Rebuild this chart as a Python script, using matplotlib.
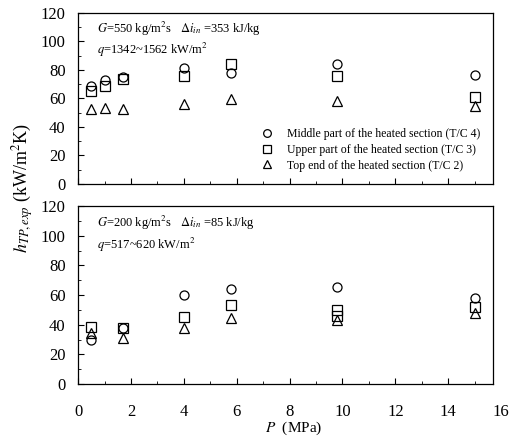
import matplotlib.pyplot as plt
from matplotlib.ticker import MultipleLocator

plt.rcParams['font.family'] = ['Liberation Serif', 'DejaVu Serif']
plt.rcParams['mathtext.fontset'] = 'stix'

# pressure (MPa)
p_top = [0.5, 1.0, 1.7, 4.0, 5.8, 9.8, 15.0]
tc4_top = [69, 73, 75, 81, 77.5, 84, 76.5]
tc3_top = [65.5, 69, 73.5, 76, 84, 76, 61]
tc2_top = [52.5, 53, 52.5, 56, 59.5, 58, 54.5]

p_bot = [0.5, 1.7, 4.0, 5.8, 9.8, 15.0]
tc4_bot = [30, 38, 60, 64, 65.5, 58]
tc3_bot = [38.5, 38, 45, 53, 50, 52]
tc2_bot = [34.5, 31, 37.5, 44.5, 43, 48]
# extra overlapping points near 10 MPa
p_extra = [9.8]
tc3_extra = [46]

fig = plt.figure(figsize=(5.11, 4.42), dpi=100)
ax1 = fig.add_axes([0.153, 0.584, 0.812, 0.387])
ax2 = fig.add_axes([0.153, 0.131, 0.812, 0.403])

mk = dict(linestyle='none', markerfacecolor='none', markeredgecolor='black',
          markersize=6.5, markeredgewidth=0.9)

ax1.plot(p_top, tc4_top, marker='o', label='Middle part of the heated section (T/C 4)', **mk)
ax1.plot(p_top, tc3_top, marker='s', label='Upper part of the heated section (T/C 3)', **mk)
ax1.plot(p_top, tc2_top, marker='^', label='Top end of the heated section (T/C 2)', **mk)

ax2.plot(p_bot, tc4_bot, marker='o', **mk)
ax2.plot(p_bot, tc3_bot, marker='s', **mk)
ax2.plot(p_extra, tc3_extra, marker='s', **mk)
ax2.plot(p_bot, tc2_bot, marker='^', **mk)

for ax in (ax1, ax2):
    ax.set_xlim(0, 15.7)
    ax.set_ylim(0, 120)
    ax.xaxis.set_major_locator(MultipleLocator(2))
    ax.xaxis.set_minor_locator(MultipleLocator(1))
    ax.yaxis.set_major_locator(MultipleLocator(20))
    ax.yaxis.set_minor_locator(MultipleLocator(10))
    ax.tick_params(which='both', direction='in', top=False, right=False, labelsize=12)
    ax.tick_params(which='major', length=4)
    ax.tick_params(which='minor', length=2.5)
    ax.tick_params(axis='y', pad=9)
    for s in ax.spines.values():
        s.set_linewidth(0.9)

ax1.tick_params(axis='x', labelbottom=False)
ax2.tick_params(axis='x', pad=14)
ax2.annotate('16', xy=(16, 0), xycoords=('data', 'axes fraction'), xytext=(0, -14),
             textcoords='offset points', ha='center', va='top', fontsize=12,
             annotation_clip=False)

ax1.legend(loc='lower right', bbox_to_anchor=(0.995, 0.01), frameon=False, fontsize=8.5,
           handletextpad=0.7, labelspacing=0.3, markerscale=0.85)

ax1.text(0.045, 0.88, r'$G$=550 kg/m$^2$s   $\Delta i_{in}$ =353 kJ/kg', transform=ax1.transAxes,
         fontsize=9)
ax1.text(0.045, 0.76, r'$q$=1342~1562 kW/m$^2$', transform=ax1.transAxes, fontsize=9)
ax2.text(0.045, 0.88, r'$G$=200 kg/m$^2$s   $\Delta i_{in}$ =85 kJ/kg', transform=ax2.transAxes,
         fontsize=9)
ax2.text(0.045, 0.76, r'$q$=517~620 kW/m$^2$', transform=ax2.transAxes, fontsize=9)

fig.text(0.045, 0.575, r'$h_{TP,exp}$ (kW/m$^2$K)', rotation=90, ha='center', va='center',
         fontsize=13)
fig.text(0.575, 0.03, r'$P$  (MPa)', ha='center', va='center', fontsize=11)

plt.savefig('out.png', dpi=100)
